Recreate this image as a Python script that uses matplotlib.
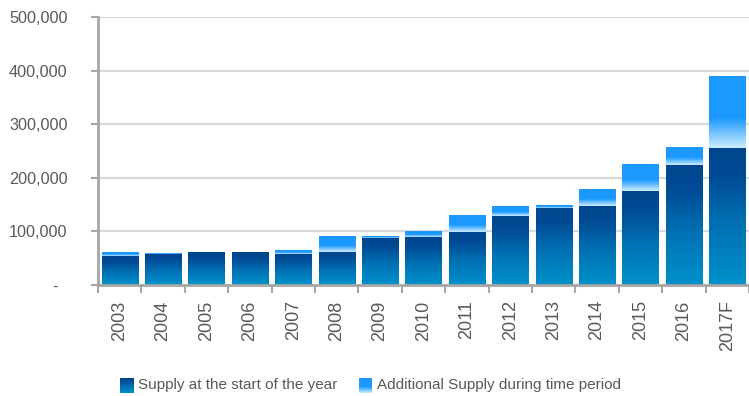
import matplotlib.pyplot as plt
import numpy as np
from matplotlib.colors import LinearSegmentedColormap

plt.rcParams['font.family'] = ['Liberation Sans', 'DejaVu Sans']

years = ["2003", "2004", "2005", "2006", "2007", "2008", "2009", "2010",
         "2011", "2012", "2013", "2014", "2015", "2016", "2017F"]
start_supply = [54000, 58500, 60000, 60000, 58000, 62000, 88000, 90000,
                99500, 129000, 144000, 148000, 176000, 224000, 256000]
additional = [6000, 1500, 0, 0, 6000, 28000, 3000, 11000,
              31500, 17000, 5000, 30000, 50000, 33000, 134000]
y_ticks = [0, 100000, 200000, 300000, 400000, 500000]
y_labels = ["-  ", "100,000", "200,000", "300,000", "400,000", "500,000"]

# gradients: bottom -> top
base_cmap = LinearSegmentedColormap.from_list(
    "base", [(0, "#0092cc"), (0.45, "#0070b2"), (0.8, "#004b94"), (1, "#00468f")])
add_cmap = LinearSegmentedColormap.from_list(
    "add", [(0, "#cdeeff"), (0.18, "#80c9ff"), (0.42, "#1c99ff"), (1, "#1c99ff")])
grad = np.linspace(0, 1, 256).reshape(-1, 1)

text_col = "#595959"
axis_col = "#a6a6a6"


def paint(ax, bars, cmap):
    for bar in bars:
        h = bar.get_height()
        if h <= 0:
            continue
        x0, y0, w = bar.get_x(), bar.get_y(), bar.get_width()
        ax.imshow(grad, cmap=cmap, origin="lower", aspect="auto",
                  extent=[x0, x0 + w, y0, y0 + h], zorder=2,
                  interpolation="bilinear")


fig = plt.figure(figsize=(7.49, 3.96), dpi=100)
ax = fig.add_axes([98 / 749, 1 - 285 / 396, 651 / 749, 268 / 396])

x = np.arange(len(years))
b1 = ax.bar(x, start_supply, width=0.83, color="none", edgecolor="none")
b2 = ax.bar(x, additional, bottom=start_supply, width=0.83,
            color="none", edgecolor="none")
paint(ax, b1, base_cmap)
paint(ax, b2, add_cmap)

ax.set_xlim(-0.5, 14.5)
ax.set_ylim(0, 500000)

ax.set_yticks(y_ticks, y_labels)
ax.yaxis.grid(True, color="#d9d9d9", linewidth=1.6)
ax.set_axisbelow(True)
ax.tick_params(axis="y", length=5, width=1.5, color=axis_col, pad=17,
               labelsize=11.7, labelcolor=text_col)

ax.set_xticks(x, years, rotation=90)
ax.set_xticks(np.arange(-0.5, 15, 1), minor=True)
ax.tick_params(axis="x", which="major", length=0, pad=11,
               labelsize=13, labelcolor=text_col)
ax.tick_params(axis="x", which="minor", length=6, width=1.5, color=axis_col)

for s in ["top", "right"]:
    ax.spines[s].set_visible(False)
for s in ["left", "bottom"]:
    ax.spines[s].set_color(axis_col)
    ax.spines[s].set_linewidth(2)

# legend
items = [("Supply at the start of the year", base_cmap, 120),
         ("Additional Supply during time period", add_cmap, 359)]
for label, cmap, px in items:
    sq = fig.add_axes([px / 749, 1 - 393 / 396, 13 / 749, 15 / 396])
    sq.imshow(grad, cmap=cmap, origin="lower", aspect="auto")
    sq.axis("off")
    fig.text((px + 18) / 749, 1 - 385 / 396, label, va="center",
             fontsize=11, color=text_col)

fig.savefig("out.png", dpi=100)
